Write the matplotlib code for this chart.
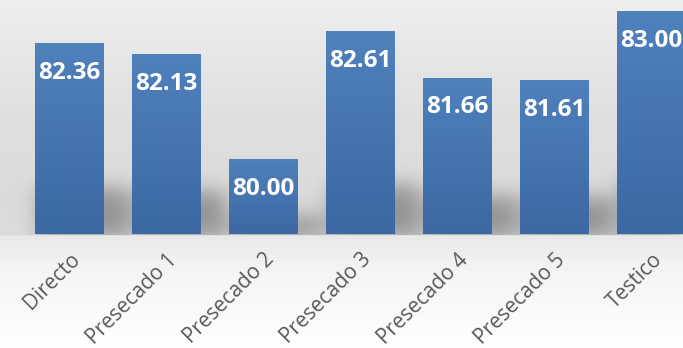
import numpy as np
import matplotlib
matplotlib.use("Agg")
import matplotlib.pyplot as plt

categorias = ["Directo", "Presecado 1", "Presecado 2", "Presecado 3",
              "Presecado 4", "Presecado 5", "Testico"]
valores = [82.36, 82.13, 80.00, 82.61, 81.66, 81.61, 83.00]

W, H = 683, 348
DPI = 100
BASE = 78.5
ANCHO = 0.71

fig = plt.figure(figsize=(W / DPI, H / DPI), dpi=DPI)

# main plot area (runs slightly past the right edge)
ax = fig.add_axes([21 / W, 1 - 234 / H, 679 / W, 246.7 / H])
ax.set_xlim(-0.5, len(valores) - 0.5)
ax.set_ylim(BASE, 83.5)
ax.set_facecolor("none")
for s in ax.spines.values():
    s.set_visible(False)

x = np.arange(len(valores))

# background: soft grey vertical gradient, lighter below the bars
filas = np.arange(H)
perfil = np.interp(filas, [0, 40, 120, 200, 234, 236, 270, 347],
                   [238, 232, 222, 218, 219, 232, 244, 254])
fondo = np.repeat(perfil[:, None], W, axis=1)

# soft shadows at the foot of each bar
sombra = np.zeros((H, W))
for xi, v in zip(x, valores):
    (l, b0), (r, t0) = ax.transData.transform([(xi - ANCHO / 2, BASE), (xi + ANCHO / 2, v)])
    base_px = H - b0
    alto = (t0 - b0) * 0.24
    c0, c1 = int(l + 4), int(r + 26)
    f0, f1 = int(base_px - alto), int(base_px + 4)
    sombra[max(f0, 0):f1, max(c0, 0):min(c1, W)] = 1.0

k = np.exp(-0.5 * (np.arange(-30, 31) / 10.0) ** 2)
k /= k.sum()
sombra = np.apply_along_axis(lambda f: np.convolve(f, k, mode="same"), 1, sombra)
sombra = np.apply_along_axis(lambda c: np.convolve(c, k, mode="same"), 0, sombra)
sombra[int(H - ax.transData.transform((0, BASE))[1]) + 1:, :] = 0
fondo = fondo - 70 * sombra

bg = fig.add_axes([0, 0, 1, 1], zorder=-1)
bg.imshow(np.clip(fondo, 0, 255) / 255, cmap="gray", vmin=0, vmax=1,
          aspect="auto", extent=[0, W, H, 0], interpolation="bilinear")
bg.axis("off")

# bars with a vertical blue gradient
arriba = np.array([79, 129, 189]) / 255
abajo = np.array([60, 104, 163]) / 255
grad = np.linspace(0, 1, 64)[:, None]
for xi, v in zip(x, valores):
    img = (arriba * (1 - grad) + abajo * grad)[:, None, :]
    ax.imshow(img, extent=[xi - ANCHO / 2, xi + ANCHO / 2, BASE, v],
              aspect="auto", origin="upper", zorder=2, interpolation="bilinear")
ax.set_xlim(-0.5, len(valores) - 0.5)
ax.set_ylim(BASE, 83.5)

for xi, v in zip(x, valores):
    ax.annotate(f"{v:.2f}", (xi, v), xytext=(0, -12.5), textcoords="offset points",
                ha="center", va="top", color="white", fontsize=17.5,
                fontweight="bold", family="Open Sans", zorder=3)

ax.set_yticks([])
ax.set_xticks(x)
ax.set_xticklabels(categorias, rotation=45, ha="right", rotation_mode="anchor",
                   fontsize=15, color="#595959", family="Open Sans")
ax.tick_params(axis="x", length=0, pad=11)

fig.savefig("out.png", dpi=DPI)
